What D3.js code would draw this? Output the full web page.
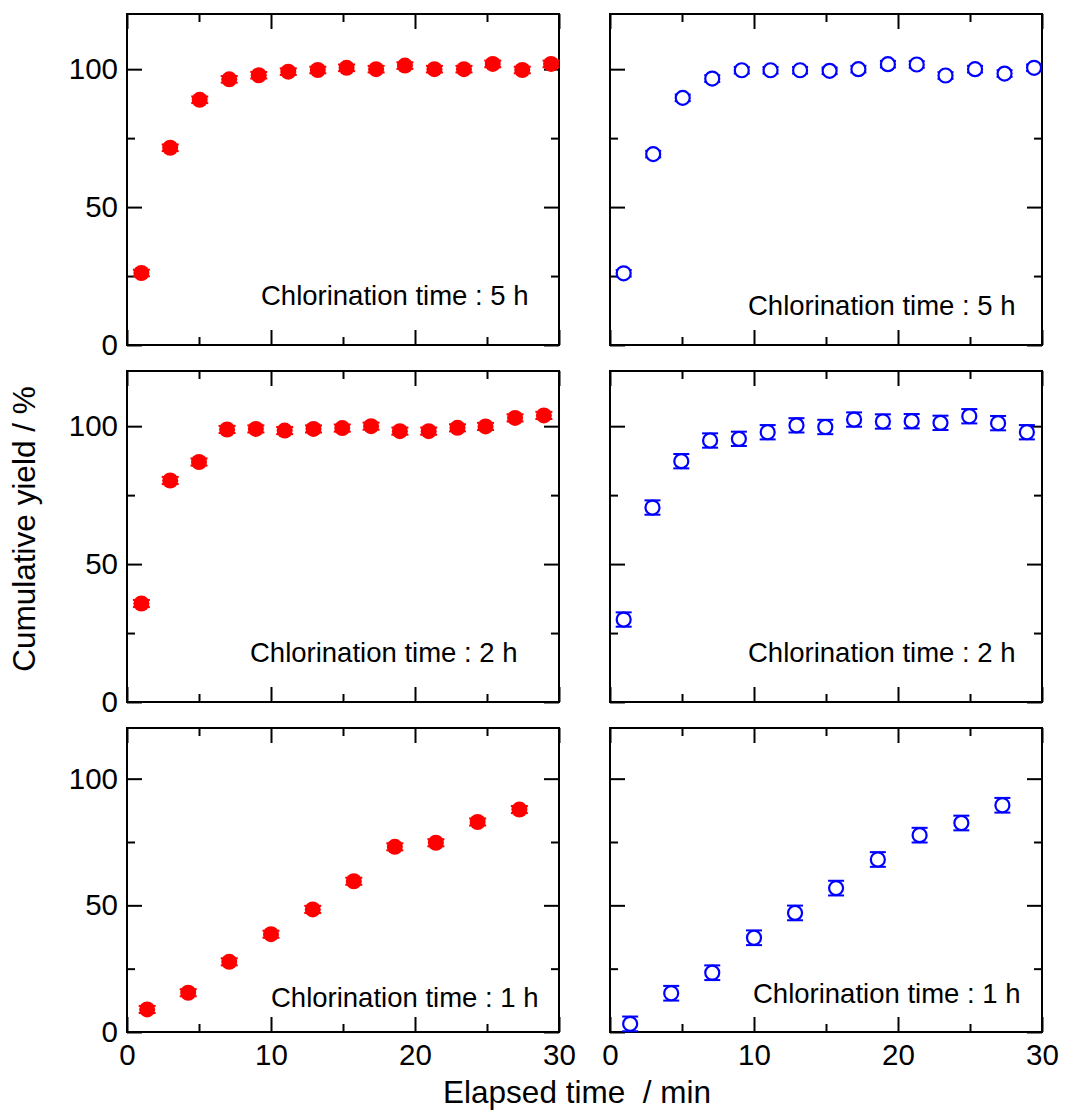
<!DOCTYPE html>
<html>
<head>
<meta charset="utf-8">
<script src="https://cdn.jsdelivr.net/npm/d3@7"></script>
<style>
  html, body { margin: 0; padding: 0; background: #fff; }
  svg { display: block; font-family: "Liberation Sans", Arial, sans-serif; }
</style>
</head>
<body>
<svg id="chart" width="1067" height="1111"></svg>
<script>
// ---------------- data ----------------
const xTicksMajor = [0, 10, 20, 30];
const xTicksMinor = [5, 15, 25];
const yTicksMajor = [0, 50, 100];
const yTicksMinor = [25, 75];
const xTickLabels = ["0", "10", "20", "30"];
const yTickLabels = ["0", "50", "100"];

const xTitle = "Elapsed time  / min";
const yTitle = "Cumulative yield / %";
const panelLabels = ["Chlorination time : 5 h", "Chlorination time : 5 h",
                     "Chlorination time : 2 h", "Chlorination time : 2 h",
                     "Chlorination time : 1 h", "Chlorination time : 1 h"];

// 5 h, red (filled)
const red5hTime  = [1.0, 3.0, 5.05, 7.1, 9.15, 11.2, 13.25, 15.25, 17.3, 19.3, 21.35, 23.4, 25.4, 27.45, 29.45];
const red5hYield = [26.1, 71.5, 88.9, 96.3, 97.8, 99.1, 99.7, 100.5, 100.0, 101.3, 100.0, 100.0, 101.9, 99.7, 101.9];
const red5hErr   = [1.2, 1.2, 1.2, 1.2, 1.2, 1.2, 1.2, 1.2, 1.2, 1.2, 1.2, 1.2, 1.2, 1.2, 1.2];
// 5 h, blue (open)
const blue5hTime  = [0.95, 3.0, 5.05, 7.1, 9.15, 11.15, 13.2, 15.25, 17.25, 19.3, 21.3, 23.3, 25.35, 27.4, 29.45];
const blue5hYield = [26.0, 69.2, 89.6, 96.6, 99.6, 99.6, 99.6, 99.4, 100.0, 101.8, 101.7, 97.7, 100.0, 98.4, 100.5];
const blue5hErr   = [1.2, 1.2, 1.2, 1.2, 1.2, 1.2, 1.2, 1.2, 1.2, 1.2, 1.2, 1.2, 1.2, 1.2, 1.2];
// 2 h, red
const red2hTime  = [1.0, 3.0, 5.0, 6.95, 8.95, 10.95, 12.95, 14.95, 16.95, 18.95, 20.95, 22.95, 24.9, 26.95, 28.95];
const red2hYield = [35.7, 80.3, 87.0, 98.8, 99.0, 98.4, 99.0, 99.3, 100.0, 98.2, 98.2, 99.4, 99.9, 103.0, 103.9];
const red2hErr   = [1.3, 1.3, 1.3, 1.3, 1.3, 1.3, 1.3, 1.3, 1.3, 1.3, 1.3, 1.3, 1.3, 1.3, 1.3];
// 2 h, blue
const blue2hTime  = [0.95, 2.95, 4.95, 6.95, 8.95, 10.95, 12.95, 14.95, 16.95, 18.95, 20.95, 22.95, 24.95, 26.95, 28.95];
const blue2hYield = [29.9, 70.5, 87.3, 94.8, 95.4, 97.8, 100.3, 99.7, 102.4, 101.7, 101.8, 101.2, 103.6, 101.1, 97.8];
const blue2hErr   = [2.6, 2.6, 2.6, 2.6, 2.6, 2.6, 2.6, 2.6, 2.6, 2.6, 2.6, 2.6, 2.6, 2.6, 2.6];
// 1 h, red
const red1hTime  = [1.4, 4.25, 7.1, 10.0, 12.9, 15.75, 18.6, 21.45, 24.35, 27.25];
const red1hYield = [8.9, 15.5, 27.7, 38.6, 48.4, 59.5, 73.1, 74.7, 82.9, 87.8];
const red1hErr   = [1.4, 1.4, 1.4, 1.4, 1.4, 1.4, 1.4, 1.4, 1.4, 1.4];
// 1 h, blue
const blue1hTime  = [1.4, 4.25, 7.1, 10.0, 12.85, 15.7, 18.6, 21.5, 24.4, 27.25];
const blue1hYield = [3.2, 15.3, 23.4, 37.2, 47.0, 56.8, 68.1, 77.7, 82.5, 89.5];
const blue1hErr   = [2.9, 2.9, 2.9, 2.9, 2.9, 2.9, 2.9, 2.9, 2.9, 2.9];

// ---------------- layout ----------------
const colX = [127, 610];
const panelW = 432;
const rows = [{y: 14, h: 331}, {y: 371, h: 331}, {y: 728, h: 304}];
const labelPos = [ // [x offset start, baseline offset]
  [134, 291], [138, 301],
  [123, 291], [138, 291],
  [144, 279], [143, 275]
];

const series = [
  {t: red5hTime,  v: red5hYield,  e: red5hErr,  kind: "red"},
  {t: blue5hTime, v: blue5hYield, e: blue5hErr, kind: "blue"},
  {t: red2hTime,  v: red2hYield,  e: red2hErr,  kind: "red"},
  {t: blue2hTime, v: blue2hYield, e: blue2hErr, kind: "blue"},
  {t: red1hTime,  v: red1hYield,  e: red1hErr,  kind: "red"},
  {t: blue1hTime, v: blue1hYield, e: blue1hErr, kind: "blue"}
];

const svg = d3.select("#chart");
const FONT_TICK = 29.5;

series.forEach((s, i) => {
  const row = Math.floor(i / 2), col = i % 2;
  const r = rows[row];
  const g = svg.append("g").attr("transform", `translate(${colX[col]},${r.y})`);
  const x = d3.scaleLinear().domain([0, 30]).range([0, panelW]);
  const y = d3.scaleLinear().domain([0, 120]).range([r.h, 0]);
  const isBottom = row === 2, isLeft = col === 0;

  const axB = g.append("g").attr("transform", `translate(0,${r.h})`)
    .call(d3.axisBottom(x).tickValues(xTicksMajor).tickSizeInner(-15).tickSizeOuter(0).tickPadding(12)
      .tickFormat((d, k) => isBottom ? xTickLabels[k] : ""));
  const axBm = g.append("g").attr("transform", `translate(0,${r.h})`)
    .call(d3.axisBottom(x).tickValues(xTicksMinor).tickSizeInner(-8).tickSizeOuter(0).tickFormat(""));
  const axT = g.append("g")
    .call(d3.axisTop(x).tickValues(xTicksMajor).tickSizeInner(-15).tickSizeOuter(0).tickFormat(""));
  const axTm = g.append("g")
    .call(d3.axisTop(x).tickValues(xTicksMinor).tickSizeInner(-8).tickSizeOuter(0).tickFormat(""));
  const axL = g.append("g")
    .call(d3.axisLeft(y).tickValues(yTicksMajor).tickSizeInner(-15).tickSizeOuter(0).tickPadding(9)
      .tickFormat((d, k) => isLeft ? yTickLabels[k] : ""));
  const axLm = g.append("g")
    .call(d3.axisLeft(y).tickValues(yTicksMinor).tickSizeInner(-8).tickSizeOuter(0).tickFormat(""));
  const axR = g.append("g").attr("transform", `translate(${panelW},0)`)
    .call(d3.axisRight(y).tickValues(yTicksMajor).tickSizeInner(-15).tickSizeOuter(0).tickFormat(""));
  const axRm = g.append("g").attr("transform", `translate(${panelW},0)`)
    .call(d3.axisRight(y).tickValues(yTicksMinor).tickSizeInner(-8).tickSizeOuter(0).tickFormat(""));

  [axB, axBm, axT, axTm, axL, axLm, axR, axRm].forEach(a => {
    a.select(".domain").remove();
    a.selectAll(".tick line").attr("stroke", "#000").attr("stroke-width", 2);
    a.selectAll(".tick text").attr("fill", "#000")
      .style("font-size", FONT_TICK + "px")
      .style("font-family", '"Liberation Sans", Arial, sans-serif');
  });

  g.append("rect").attr("x", 0).attr("y", 0).attr("width", panelW).attr("height", r.h)
    .attr("fill", "none").attr("stroke", "#000").attr("stroke-width", 2);

  g.append("text").attr("x", labelPos[i][0]).attr("y", labelPos[i][1])
    .attr("fill", "#000").style("font-size", "27.5px")
    .text(panelLabels[i]);

  const color = s.kind === "red" ? "#ff0000" : "#0000ff";
  const pts = s.t.map((t, k) => ({t, v: s.v[k], e: s.e[k]}));

  const eb = g.append("g").attr("stroke", color).attr("stroke-width", 2).attr("fill", "none");
  const capW = s.kind === "red" ? 8.5 : 8;
  pts.forEach(p => {
    const cx = x(p.t), y1 = y(p.v + p.e), y2 = y(p.v - p.e);
    eb.append("line").attr("x1", cx).attr("x2", cx).attr("y1", y1).attr("y2", y2);
    eb.append("line").attr("x1", cx - capW).attr("x2", cx + capW).attr("y1", y1).attr("y2", y1);
    eb.append("line").attr("x1", cx - capW).attr("x2", cx + capW).attr("y1", y2).attr("y2", y2);
  });

  g.append("g").selectAll("circle").data(pts).join("circle")
    .attr("cx", d => x(d.t)).attr("cy", d => y(d.v))
    .attr("r", s.kind === "red" ? 8 : 7)
    .attr("fill", s.kind === "red" ? color : "#fff")
    .attr("stroke", color)
    .attr("stroke-width", s.kind === "red" ? 0 : 2.2);
});

svg.append("text").attr("x", 577).attr("y", 1103).attr("text-anchor", "middle")
  .attr("fill", "#000").style("font-size", "31.5px").style("white-space", "pre")
  .text(xTitle);
svg.append("text").attr("transform", "translate(35,529) rotate(-90)").attr("text-anchor", "middle")
  .attr("fill", "#000").style("font-size", "31.5px")
  .text(yTitle);
</script>
</body>
</html>
